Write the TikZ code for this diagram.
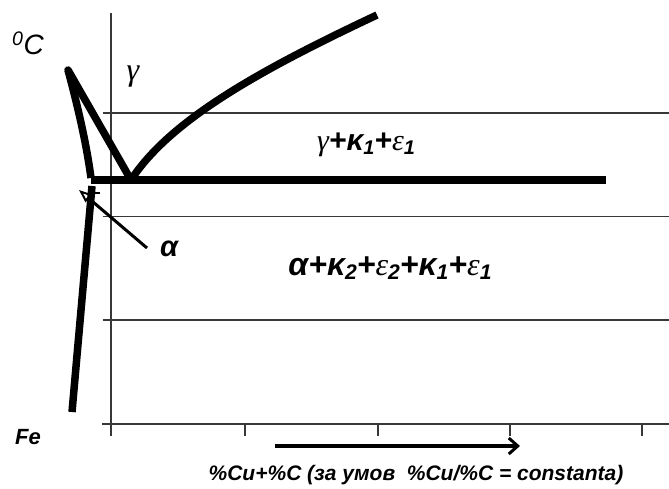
\documentclass[tikz,border=0pt]{standalone}
\usepackage{fontspec}
\setmainfont{Liberation Sans}
\newfontfamily\grserif{Liberation Serif}
\usetikzlibrary{arrows.meta}
\newcommand{\sbs}[1]{\raisebox{-0.12em}{\fontsize{0.66em}{1em}\selectfont #1}}
\begin{document}
\begin{tikzpicture}[x=1pt,y=-1pt,
  gridline/.style={line width=1.6pt, draw=black!78},
  phase/.style={line width=7.5pt, line cap=butt, line join=miter},
  lbl/.style={inner sep=0pt, font=\bfseries\itshape}]
\useasboundingbox (0,0) rectangle (669,488);
% key points
\coordinate (A) at (68,70);
\coordinate (E) at (131,180);
\coordinate (Ac) at (91,178);
\coordinate (Lt) at (92,186);
\coordinate (Lb) at (72,412);
\coordinate (Et) at (606,180);
\coordinate (Es) at (91,180);
\coordinate (Ct) at (377,15);
% grid
\draw[gridline] (111,13) -- (111,436);
\draw[gridline] (102,424) -- (669,424);
\foreach \y in {113,216.5,320} \draw[gridline] (103,\y) -- (669,\y);
\foreach \x in {245,378,510,642} \draw[gridline] (\x,424) -- (\x,436);
% phase lines
\draw[phase] (Es) -- (Et);
\draw[phase, line cap=round] (A) -- (E);
\draw[phase] (A) .. controls (76,100) and (86,140) .. (Ac);
\draw[phase] (E) .. controls (170,120) and (260,70) .. (Ct);
\draw[phase] (Lt) -- (Lb);
\draw[line width=2.5pt] (93,193) -- (100,193);
% alpha arrow
\node[lbl, font=\fontsize{29}{32}\selectfont\bfseries\itshape] (alab) at (169,249) {α};
\coordinate (at) at (79,190);
\draw[line width=3pt, -{Triangle[open, length=13pt, width=10pt, line width=2pt]}] (147,248) -- (at);
% labels
\node[lbl, font=\fontsize{28}{30}\selectfont\itshape] (deg) at (28,43) {\textsuperscript{0}C};
\node[inner sep=0pt, font=\fontsize{32}{34}\selectfont\grserif\itshape] (gam) at (133,77) {γ};
\node[lbl, font=\fontsize{30}{32}\selectfont\bfseries\itshape] (g1) at (366,145) {{\grserif\mdseries γ}+κ\sbs{1}+{\grserif\mdseries ε}\sbs{1}};
\node[lbl, font=\fontsize{32}{34}\selectfont\bfseries\itshape] (a1) at (390,268) {α+κ\sbs{2}+{\grserif\mdseries ε}\sbs{2}+κ\sbs{1}+{\grserif\mdseries ε}\sbs{1}};
\node[lbl, font=\fontsize{22}{24}\selectfont\bfseries\itshape] (fe) at (28,437) {Fe};
\coordinate (ars) at (275,446);
\coordinate (are) at (520,446);
\draw[line width=3.5pt, -{Straight Barb[length=9pt, width=16pt, line width=3pt]}] (ars) -- (are);
\node[lbl, font=\fontsize{21}{24}\selectfont\bfseries\itshape] (cap) at (416,475) {\%Cu+\%C (за умов\ \ \%Cu/\%C = constanta)};
\end{tikzpicture}
\end{document}
